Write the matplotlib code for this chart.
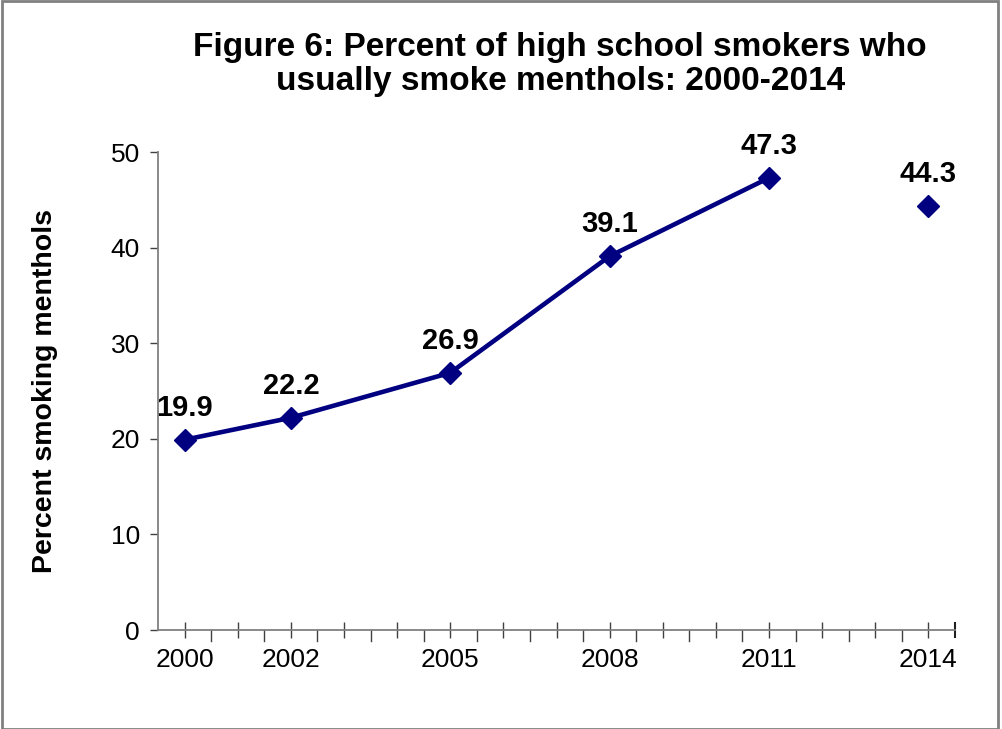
import matplotlib
matplotlib.use('Agg')
import matplotlib.pyplot as plt
from matplotlib.patches import Rectangle
import numpy as np

# Data
years = [2000, 2002, 2005, 2008, 2011, 2014]
pct = [19.9, 22.2, 26.9, 39.1, 47.3, 44.3]
tick_years = [2000, 2002, 2005, 2008, 2011, 2014]
title = "Figure 6: Percent of high school smokers who\nusually smoke menthols: 2000-2014"
ylabel = "Percent smoking menthols"

plt.rcParams['font.family'] = ['Liberation Sans', 'DejaVu Sans']

fig = plt.figure(figsize=(10.02, 7.29), dpi=100)
ax = fig.add_axes([158 / 1002, 99 / 729, 797 / 1002, 478 / 729])

navy = '#000080'
# connected series 2000-2011, 2014 stands alone
ax.plot(years[:5], pct[:5], color=navy, lw=3.3, solid_joinstyle='round', zorder=3)
ax.plot(years, pct, linestyle='none', marker='D', ms=11, color=navy, zorder=4)

for x, y in zip(years, pct):
    ax.annotate(f"{y:.1f}", (x, y), xytext=(0, 13), textcoords='offset points',
                ha='center', va='bottom', fontsize=21, fontweight='bold')

ax.set_xlim(1999.5, 2014.5)
ax.set_ylim(0, 50)
ax.set_yticks(np.arange(0, 51, 10))
ax.set_xticks(tick_years)
ax.set_xticklabels([str(y) for y in tick_years])
ax.set_xticks(np.arange(2000, 2015), minor=True)

for s in ['top', 'right']:
    ax.spines[s].set_visible(False)
for s in ['left', 'bottom']:
    ax.spines[s].set_color('#808080')
    ax.spines[s].set_linewidth(1.3)

ax.tick_params(axis='y', which='major', direction='out', length=6, width=1, color='#404040',
               labelsize=19, pad=7)
ax.tick_params(axis='x', which='major', direction='inout', length=12, width=1, color='#404040',
               labelsize=19, pad=7)
ax.tick_params(axis='x', which='minor', direction='inout', length=12, width=1, color='#404040')

# half-year outside ticks
for xv in np.arange(2000.5, 2014.0, 1.0):
    ax.plot([xv, xv], [0, -1.1], color='#404040', lw=1, clip_on=False, zorder=2)
ax.plot([2014.5, 2014.5], [-0.7, 0.7], color='#202020', lw=1.5, clip_on=False)

ax.set_ylabel(ylabel, fontsize=20.5, fontweight='bold')
ax.yaxis.set_label_coords(-0.126, 0.5)
fig.text(0.559, 0.912, title, ha='center', va='center', fontsize=24, fontweight='bold',
         linespacing=1.12)

fig.patches.append(Rectangle((0.002, 0.0), 0.994, 0.998, transform=fig.transFigure,
                             fill=False, edgecolor='#808080', lw=2))

fig.savefig('out.png', dpi=100)
